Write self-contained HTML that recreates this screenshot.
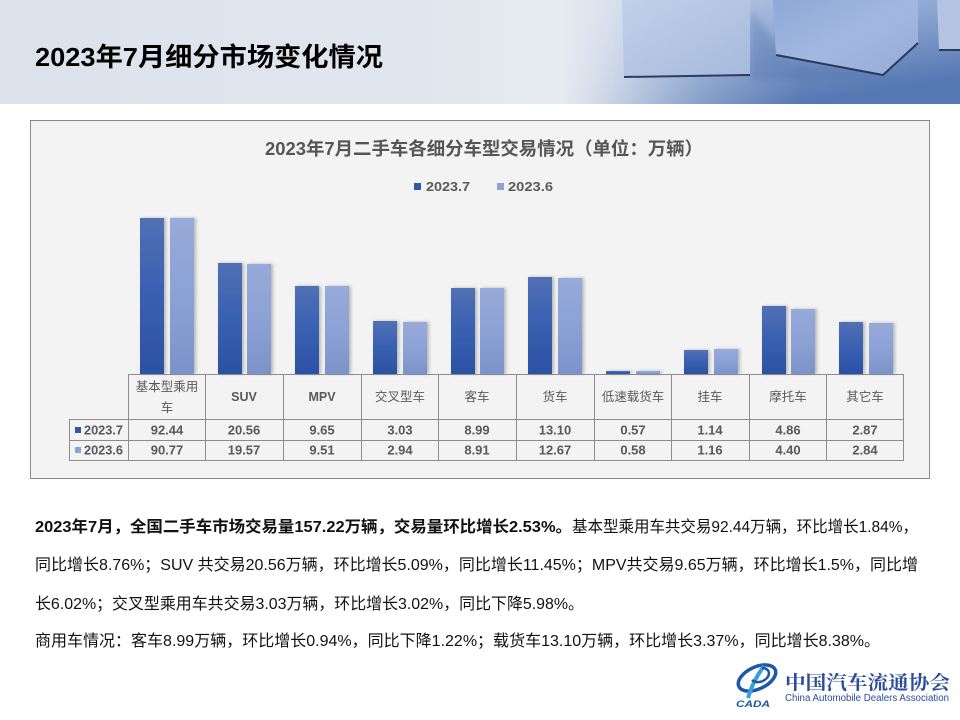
<!DOCTYPE html>
<html><head><meta charset="utf-8"><style>
html,body{margin:0;padding:0;background:#fff;}
svg{display:block;}
text{font-family:"Liberation Sans","Noto Sans CJK SC",sans-serif;}
</style></head><body>
<svg width="960" height="720" viewBox="0 0 960 720" xmlns="http://www.w3.org/2000/svg">
<defs>
<linearGradient id="hdr" x1="0" y1="0" x2="1" y2="0">
<stop offset="0" stop-color="#dce2ec"/><stop offset="0.45" stop-color="#e1e6ee"/><stop offset="0.62" stop-color="#e9edf2"/><stop offset="0.72" stop-color="#dfe6f0"/><stop offset="1" stop-color="#c9d5e8"/>
</linearGradient>
<linearGradient id="floor" x1="0" y1="0" x2="0.6" y2="1">
<stop offset="0" stop-color="#b8c8e3"/><stop offset="0.5" stop-color="#8aa4d0"/><stop offset="1" stop-color="#5577b2"/>
</linearGradient>
<linearGradient id="fadeG" x1="0" y1="0" x2="1" y2="0">
<stop offset="0" stop-color="#fff" stop-opacity="0"/><stop offset="0.35" stop-color="#fff" stop-opacity="0.7"/><stop offset="0.6" stop-color="#fff" stop-opacity="1"/>
</linearGradient>
<mask id="fade" maskUnits="userSpaceOnUse" x="560" y="0" width="400" height="104">
<rect x="560" y="0" width="400" height="104" fill="url(#fadeG)"/>
</mask>
<linearGradient id="cube1" x1="0" y1="0" x2="1" y2="1">
<stop offset="0" stop-color="#c2d0e8"/><stop offset="1" stop-color="#a6bade"/>
</linearGradient>
<linearGradient id="cube2" x1="0" y1="0" x2="1" y2="1">
<stop offset="0" stop-color="#8ea8d8"/><stop offset="0.5" stop-color="#a3b8e0"/><stop offset="1" stop-color="#95acd8"/>
</linearGradient>
<linearGradient id="dk" x1="0" y1="0" x2="0" y2="1">
<stop offset="0" stop-color="#5270b4"/><stop offset="0.45" stop-color="#3a61b2"/><stop offset="1" stop-color="#2b51a3"/>
</linearGradient>
<linearGradient id="lt" x1="0" y1="0" x2="0" y2="1">
<stop offset="0" stop-color="#97aad9"/><stop offset="0.5" stop-color="#8ca2d5"/><stop offset="1" stop-color="#7c93c9"/>
</linearGradient>
<filter id="sh" x="-20%" y="-5%" width="150%" height="110%">
<feDropShadow dx="2" dy="0" stdDeviation="1.5" flood-color="#000" flood-opacity="0.25"/>
</filter>
<filter id="blur"><feGaussianBlur stdDeviation="4"/></filter>
</defs>

<!-- header band -->
<rect x="0" y="0" width="960" height="104" fill="url(#hdr)"/>
<rect x="560" y="0" width="400" height="104" fill="url(#floor)" mask="url(#fade)"/>
<polygon points="750,10 790,60 900,80 750,80" fill="#4d6ea8" opacity="0.35" filter="url(#blur)"/>
<polygon points="622,0 750,0 750,75 624,77" fill="url(#cube1)"/>
<line x1="624" y1="77" x2="750" y2="75" stroke="#2b3d5f" stroke-width="2"/>
<polygon points="773,0 918,0 918,43 883,75 776,55" fill="url(#cube2)"/>
<polyline points="776,55 883,75 918,43" fill="none" stroke="#2a3a58" stroke-width="2"/>
<polygon points="937,0 960,0 960,50 939,50" fill="#b3c4e2"/>
<line x1="939" y1="50" x2="960" y2="50" stroke="#2b3d5f" stroke-width="2"/>
<text x="35" y="66" font-size="26" font-weight="bold" fill="#000" textLength="348" lengthAdjust="spacingAndGlyphs">2023年7月细分市场变化情况</text>

<!-- chart frame -->
<rect x="30.5" y="120.5" width="899" height="358" fill="#f3f3f3" stroke="#8a8a8a" stroke-width="1"/>
<text x="265" y="155" font-size="18" font-weight="bold" fill="#555" textLength="438" lengthAdjust="spacingAndGlyphs">2023年7月二手车各细分车型交易情况（单位：万辆）</text>
<rect x="414" y="183" width="7" height="7" fill="#3158a8"/>
<text x="426" y="191" font-size="13" font-weight="bold" fill="#595959" textLength="44" lengthAdjust="spacingAndGlyphs">2023.7</text>
<rect x="497" y="183" width="7" height="7" fill="#8ea3d5"/>
<text x="508" y="191" font-size="13" font-weight="bold" fill="#595959" textLength="45" lengthAdjust="spacingAndGlyphs">2023.6</text>

<!-- bars -->
<g filter="url(#sh)">
<rect x="140" y="218" width="24" height="156" fill="url(#dk)"/>
<rect x="170" y="218" width="24" height="156" fill="url(#lt)"/>
<rect x="218" y="263" width="24" height="111" fill="url(#dk)"/>
<rect x="247" y="264" width="24" height="110" fill="url(#lt)"/>
<rect x="295" y="286" width="24" height="88" fill="url(#dk)"/>
<rect x="325" y="286" width="24" height="88" fill="url(#lt)"/>
<rect x="373" y="321" width="24" height="53" fill="url(#dk)"/>
<rect x="403" y="322" width="24" height="52" fill="url(#lt)"/>
<rect x="451" y="288" width="24" height="86" fill="url(#dk)"/>
<rect x="480" y="288" width="24" height="86" fill="url(#lt)"/>
<rect x="528" y="277" width="24" height="97" fill="url(#dk)"/>
<rect x="558" y="278" width="24" height="96" fill="url(#lt)"/>
<rect x="606" y="371" width="24" height="3" fill="url(#dk)"/>
<rect x="636" y="371" width="24" height="3" fill="url(#lt)"/>
<rect x="684" y="350" width="24" height="24" fill="url(#dk)"/>
<rect x="714" y="349" width="24" height="25" fill="url(#lt)"/>
<rect x="762" y="306" width="24" height="68" fill="url(#dk)"/>
<rect x="791" y="309" width="24" height="65" fill="url(#lt)"/>
<rect x="839" y="322" width="24" height="52" fill="url(#dk)"/>
<rect x="869" y="323" width="24" height="51" fill="url(#lt)"/>
</g>

<!-- data table -->
<g stroke="#8c8c8c" stroke-width="1" fill="none">
<line x1="128" y1="374.5" x2="904" y2="374.5"/>
<line x1="69" y1="419.5" x2="904" y2="419.5"/>
<line x1="69" y1="440.5" x2="904" y2="440.5"/>
<line x1="69" y1="460.5" x2="904" y2="460.5"/>
<line x1="69.5" y1="419" x2="69.5" y2="461"/>
<line x1="128.5" y1="374" x2="128.5" y2="461"/>
<line x1="205.5" y1="374" x2="205.5" y2="461"/>
<line x1="283.5" y1="374" x2="283.5" y2="461"/>
<line x1="361.5" y1="374" x2="361.5" y2="461"/>
<line x1="438.5" y1="374" x2="438.5" y2="461"/>
<line x1="516.5" y1="374" x2="516.5" y2="461"/>
<line x1="594.5" y1="374" x2="594.5" y2="461"/>
<line x1="671.5" y1="374" x2="671.5" y2="461"/>
<line x1="749.5" y1="374" x2="749.5" y2="461"/>
<line x1="826.5" y1="374" x2="826.5" y2="461"/>
<line x1="903.5" y1="374" x2="903.5" y2="461"/>
</g>
<g font-size="12.5" fill="#595959" text-anchor="middle">
<text x="167" y="391">基本型乘用</text>
<text x="167" y="412">车</text>
<text x="244" y="401" font-weight="bold">SUV</text>
<text x="322" y="401" font-weight="bold">MPV</text>
<text x="400" y="401">交叉型车</text>
<text x="477" y="401">客车</text>
<text x="555" y="401">货车</text>
<text x="633" y="401">低速载货车</text>
<text x="710" y="401">挂车</text>
<text x="788" y="401">摩托车</text>
<text x="865" y="401">其它车</text>
</g>
<rect x="75" y="427" width="6" height="6" fill="#3158a8"/>
<text x="84" y="434.5" font-size="13" font-weight="bold" fill="#595959" textLength="39" lengthAdjust="spacingAndGlyphs">2023.7</text>
<rect x="75" y="447" width="6" height="6" fill="#8ea3d5"/>
<text x="84" y="454.5" font-size="13" font-weight="bold" fill="#595959" textLength="39" lengthAdjust="spacingAndGlyphs">2023.6</text>
<g font-size="13" font-weight="bold" fill="#595959" text-anchor="middle">
<text x="167" y="434.5">92.44</text><text x="244" y="434.5">20.56</text><text x="322" y="434.5">9.65</text><text x="400" y="434.5">3.03</text><text x="477" y="434.5">8.99</text><text x="555" y="434.5">13.10</text><text x="633" y="434.5">0.57</text><text x="710" y="434.5">1.14</text><text x="788" y="434.5">4.86</text><text x="865" y="434.5">2.87</text>
<text x="167" y="454.5">90.77</text><text x="244" y="454.5">19.57</text><text x="322" y="454.5">9.51</text><text x="400" y="454.5">2.94</text><text x="477" y="454.5">8.91</text><text x="555" y="454.5">12.67</text><text x="633" y="454.5">0.58</text><text x="710" y="454.5">1.16</text><text x="788" y="454.5">4.40</text><text x="865" y="454.5">2.84</text>
</g>

<!-- paragraph -->
<g font-size="16" fill="#111">
<text x="35" y="532" font-weight="bold" textLength="537" lengthAdjust="spacingAndGlyphs">2023年7月，全国二手车市场交易量157.22万辆，交易量环比增长2.53%。</text>
<text x="572" y="532" textLength="346" lengthAdjust="spacingAndGlyphs">基本型乘用车共交易92.44万辆，环比增长1.84%，</text>
<text x="35" y="570" textLength="883" lengthAdjust="spacingAndGlyphs">同比增长8.76%；SUV 共交易20.56万辆，环比增长5.09%，同比增长11.45%；MPV共交易9.65万辆，环比增长1.5%，同比增</text>
<text x="35" y="609" textLength="549" lengthAdjust="spacingAndGlyphs">长6.02%；交叉型乘用车共交易3.03万辆，环比增长3.02%，同比下降5.98%。</text>
<text x="35" y="646" textLength="845" lengthAdjust="spacingAndGlyphs">商用车情况：客车8.99万辆，环比增长0.94%，同比下降1.22%；载货车13.10万辆，环比增长3.37%，同比增长8.38%。</text>
</g>

<!-- logo -->
<g>
<ellipse cx="757" cy="678" rx="20" ry="11" transform="rotate(-25 757 678)" fill="none" stroke="#1f57a8" stroke-width="3.5"/>
<path d="M764 666 C758 674,752 684,748 698" fill="none" stroke="#3aa0d8" stroke-width="4"/>
<path d="M762 668 C770 668,772 676,763 681 C758 683,754 682,752 680" fill="none" stroke="#1f57a8" stroke-width="2.5"/>
<text x="736" y="707" font-size="9" font-weight="bold" font-style="italic" fill="#1f57a8" textLength="34" lengthAdjust="spacingAndGlyphs">CADA</text>
<text x="785" y="689" font-size="19" font-weight="bold" fill="#2b4c9c" textLength="165" lengthAdjust="spacingAndGlyphs" style="font-family:'Liberation Serif','Noto Serif CJK SC',serif">中国汽车流通协会</text>
<text x="785" y="701" font-size="10" fill="#2b4c9c" textLength="164" lengthAdjust="spacingAndGlyphs">China Automobile Dealers Association</text>
</g>
</svg>
</body></html>
